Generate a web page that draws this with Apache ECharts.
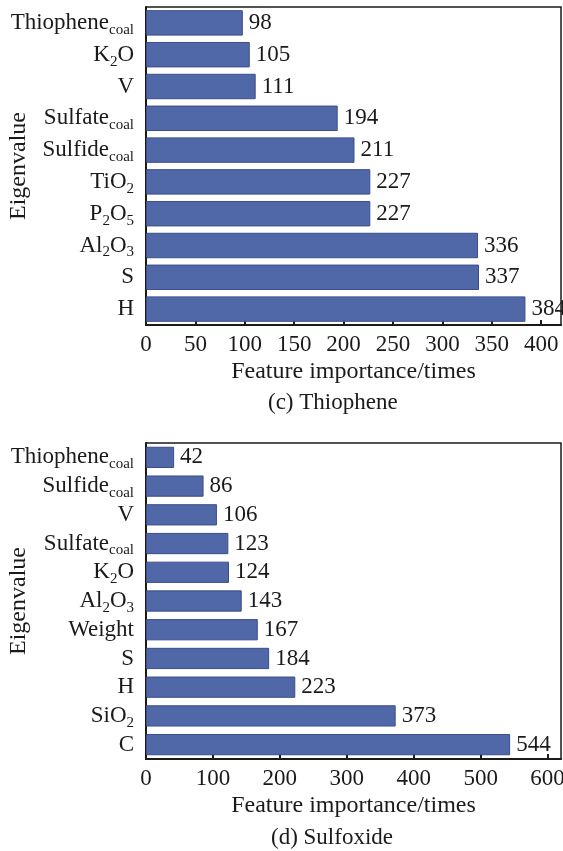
<!DOCTYPE html>
<html>
<head>
<meta charset="utf-8">
<script src="https://cdn.jsdelivr.net/npm/echarts@6/dist/echarts.min.js"></script>
<style>
  html, body { margin: 0; padding: 0; background: #fff; }
  #chart { width: 563px; height: 851px; }
</style>
</head>
<body>
<div id="chart"></div>
<script>
// (c) Thiophene — categories listed top to bottom
const thiopheneFeatures = ['Thiophene_coal', 'K2O', 'V', 'Sulfate_coal', 'Sulfide_coal', 'TiO2', 'P2O5', 'Al2O3', 'S', 'H'];
const thiopheneCounts = [98, 105, 111, 194, 211, 227, 227, 336, 337, 384];

// (d) Sulfoxide — categories listed top to bottom
const sulfoxideFeatures = ['Thiophene_coal', 'Sulfide_coal', 'V', 'Sulfate_coal', 'K2O', 'Al2O3', 'Weight', 'S', 'H', 'SiO2', 'C'];
const sulfoxideCounts = [42, 86, 106, 123, 124, 143, 167, 184, 223, 373, 544];

const axisTitleX = 'Feature importance/times';
const axisTitleY = 'Eigenvalue';
const captionTop = '(c) Thiophene';
const captionBottom = '(d) Sulfoxide';

const FONT = '"Liberation Serif", "DejaVu Serif", serif';
const INK = '#1a1a1a';
const BAR = '#5068a8';
const BAR_EDGE = '#3b4d8a';

// Turn "Al2O3" / "Sulfate_coal" into rich text with subscripts
function subscriptLabel(name) {
  return name.replace(/_(\w+)/g, '{s|$1}').replace(/(\d+)/g, '{s|$1}');
}

const richSub = {
  s: { fontSize: 15, fontFamily: FONT, color: INK, padding: [14, 0, 0, 0] }
};

function categoryAxis(gridIndex, data) {
  return {
    type: 'category', gridIndex, data, inverse: true,
    name: axisTitleY, nameLocation: 'middle', nameGap: 115, nameMoveOverlap: false,
    nameTextStyle: { fontFamily: FONT, fontSize: 24, color: INK },
    axisLine: { show: true, lineStyle: { color: INK, width: 2 } },
    axisTick: { show: true, inside: true, alignWithLabel: true, length: 5, lineStyle: { color: INK, width: 2 } },
    axisLabel: {
      interval: 0, hideOverlap: false,
      fontFamily: FONT, fontSize: 23, color: INK, margin: 12,
      formatter: subscriptLabel, rich: richSub
    },
    splitLine: { show: false }
  };
}

function valueAxis(gridIndex, max, interval) {
  return {
    type: 'value', gridIndex, min: 0, max, interval,
    name: axisTitleX, nameLocation: 'middle', nameGap: 35, nameMoveOverlap: false,
    nameTextStyle: { fontFamily: FONT, fontSize: 24, color: INK },
    axisLine: { show: true, lineStyle: { color: INK, width: 2 } },
    axisTick: { show: true, inside: true, length: 5, lineStyle: { color: INK, width: 2 } },
    axisLabel: { fontFamily: FONT, fontSize: 23, color: INK, margin: 8, showMaxLabel: false },
    splitLine: { show: false }
  };
}

function barSeries(index, values, gap) {
  return {
    type: 'bar', xAxisIndex: index, yAxisIndex: index, data: values,
    barCategoryGap: gap,
    itemStyle: { color: BAR, borderColor: BAR_EDGE, borderWidth: 1 },
    label: {
      show: true, position: 'right', distance: 6,
      fontFamily: FONT, fontSize: 23, color: INK
    },
    silent: true
  };
}

const gridBase = {
  left: 146, width: 415, show: true, borderColor: INK, borderWidth: 1.5,
  backgroundColor: 'transparent', containLabel: false, outerBoundsMode: 'none'
};

const chart = echarts.init(document.getElementById('chart'), null, { renderer: 'canvas' });
chart.setOption({
  animation: false,
  backgroundColor: '#fff',
  grid: [
    Object.assign({}, gridBase, { top: 7, height: 318 }),
    Object.assign({}, gridBase, { top: 443, height: 316 })
  ],
  xAxis: [valueAxis(0, 420, 50), valueAxis(1, 620, 100)],
  yAxis: [categoryAxis(0, thiopheneFeatures), categoryAxis(1, sulfoxideFeatures)],
  series: [barSeries(0, thiopheneCounts, '20%'), barSeries(1, sulfoxideCounts, '26%')],
  graphic: [
    { type: 'text', left: 268, top: 391, style: { text: captionTop, font: '23px ' + FONT, fill: INK } },
    { type: 'text', left: 271, top: 826, style: { text: captionBottom, font: '23px ' + FONT, fill: INK } }
  ]
});
</script>
</body>
</html>
